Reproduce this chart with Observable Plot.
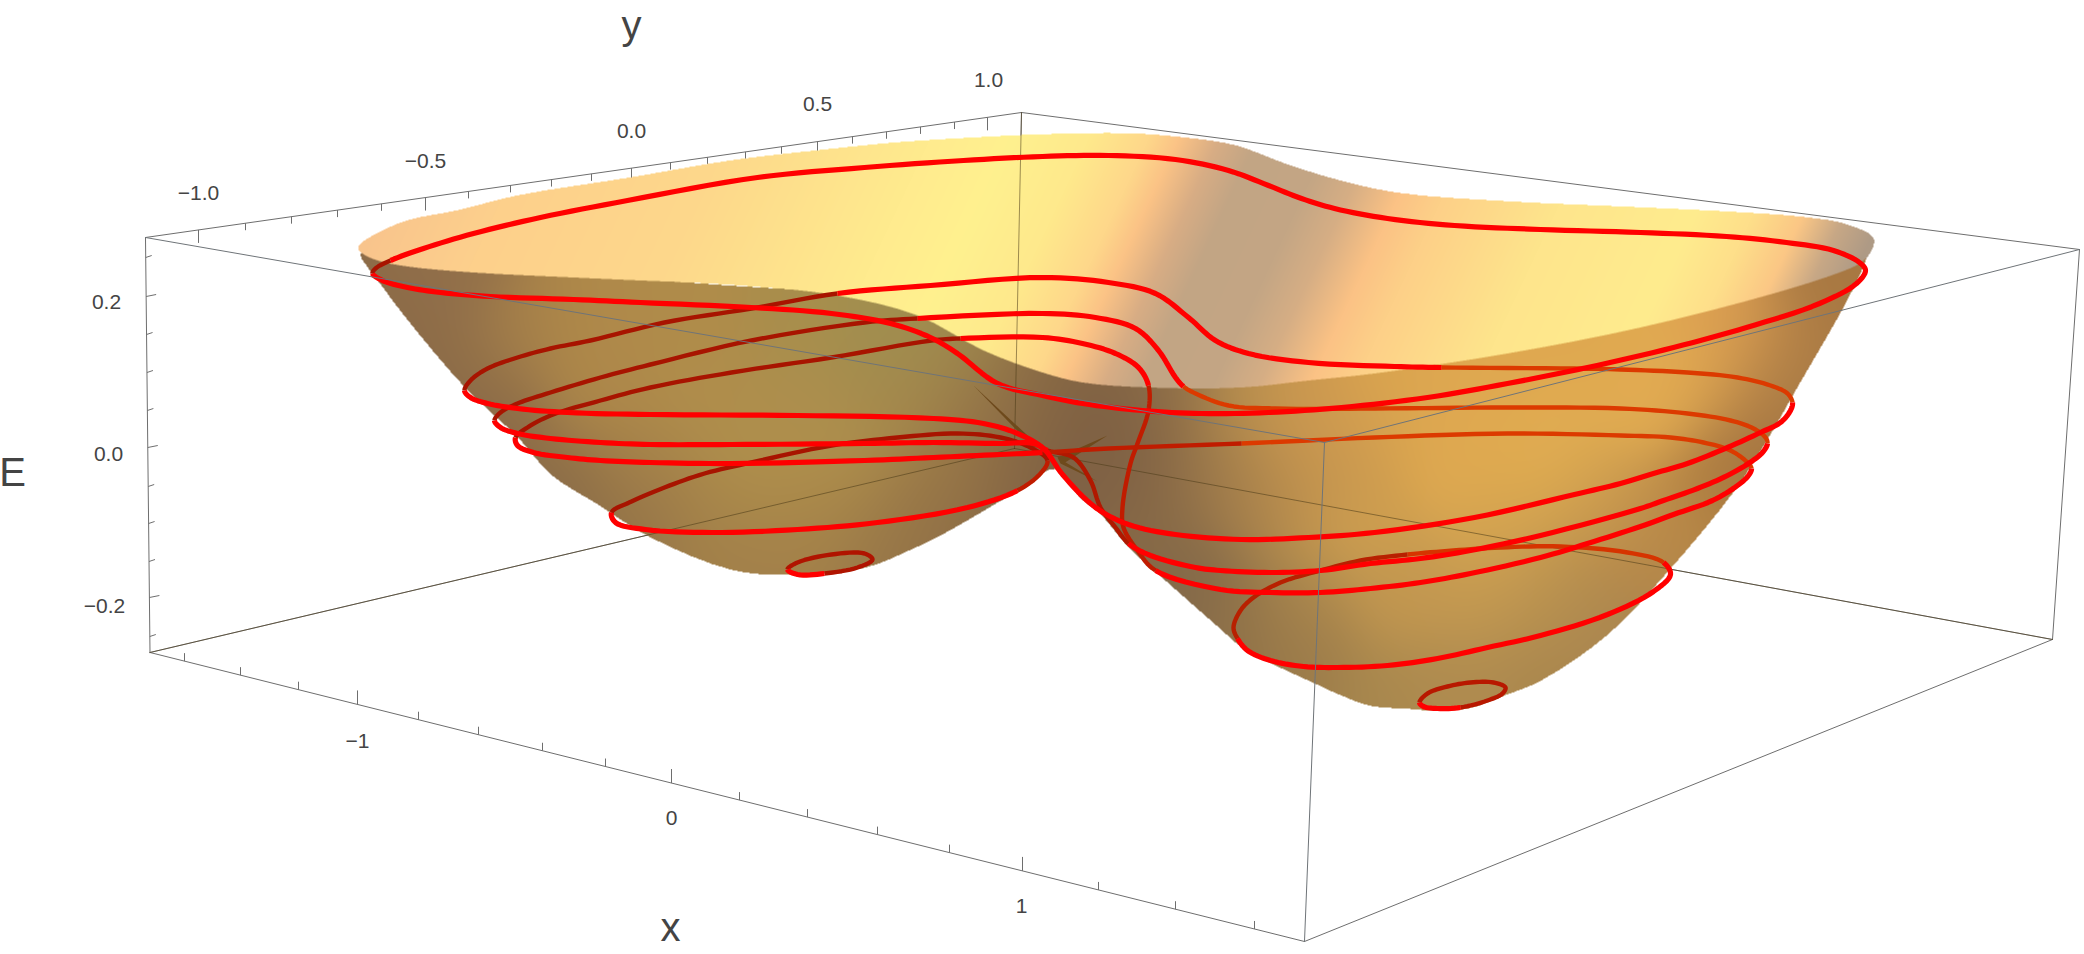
<!DOCTYPE html>
<html><head><meta charset="utf-8">
<style>html,body{margin:0;background:#fff}svg{display:block}</style>
<script src="https://cdn.jsdelivr.net/npm/d3@7"></script>
<script src="https://cdn.jsdelivr.net/npm/@observablehq/plot@0.6"></script>
</head><body><div id="chart"></div>
<script>
// Everything in screen units of the projected view.
const cornerA=[145,237],cornerB=[1021,112],cornerC=[2079,249],cornerD=[1324,442];
const cornerE=[149.5,652],cornerF=[1304,941],cornerG=[2052,639],cornerH=[1014,448];

const rimLight=[[358,248],[362,242],[383,230],[407,220],[457,210],[518,195],[631,177],[731,160],[817,150],[897,142],[977,137],[1042,134],[1128,133],[1182,137],[1235,145],[1281,162],[1328,177],[1394,192],[1507,201],[1640,207],[1740,212],[1806,217],[1846,224],[1873,238],[1869,253],[1859,263],[1839,272],[1773,293],[1640,327],[1507,353],[1374,373],[1308,380],[1241,387],[1148,387],[1082,382],[1042,372],[983,350],[917,315],[837,295],[731,284],[640,280],[573,277],[473,272],[407,266],[377,260],[362,253]];
const silhouette=[[360,253],[383,287],[408,320],[465,387],[518,437],[551,474],[598,504],[651,537],[731,569],[784,574],[864,567],[910,549],[943,533],[1017,490],[1055,468],[1080,497],[1100,513],[1128,546],[1162,577],[1220,628],[1237,643],[1270,662],[1313,682],[1337,693],[1370,705],[1407,708],[1437,710],[1470,707],[1503,695],[1540,680],[1607,634],[1667,571],[1733,491],[1766,440],[1793,393],[1853,287],[1866,254],[1855,262],[1500,300],[1000,300],[500,268],[375,256]];

const lightU=[340,500,700,900,980,1060,1120,1150,1190,1230,1300,1345,1395,1440,1560,1700,1760,1810,1850,1890];
const lightC=["#f7c08c","#fdd08c","#fdd88b","#ffeb8e","#fff18f","#fee98c","#fed78a","#fbc386","#d8ad84","#c2a584","#c4a684","#d6ae84","#fbc285","#fdd088","#fee58c","#ffec8e","#fedf8a","#fbc785","#c8a885","#ae9a85"];
const shadeX=[1780,1800,1835,1745,1720,1660,1600,1540,1450,1380,1300,1240,1180,1140,1100,1250,1300,1350,1350,1450,1550,1650,1700,1500,1600,1650,1400,1300,1500,1560,1300,1200,1130,1160,1500,1600,1740,
 400,460,500,570,640,720,800,880,950,1020,520,600,700,800,880,950,600,700,800,900,980,650,750,850,950,1000,720,820,900,440,1040,1050,1090,1400,1240];
const shadeY=[400,370,300,450,500,560,620,660,695,695,665,625,570,530,490,500,480,440,520,440,440,400,380,530,500,530,600,600,600,590,420,470,460,400,390,360,340,
 320,380,430,490,530,565,572,560,525,485,340,330,330,330,340,365,400,400,400,400,410,470,470,470,470,440,530,530,520,290,400,430,430,400,410];
const shadeC=["#a87a45","#a87a45","#a87842","#a07040","#b08040","#b08448","#a88450","#a8864e","#b08c50","#a8884e","#9a7a4a","#8a6e48","#82684a","#8a6c46","#806248","#a8824c","#bc8f4e","#d09c50","#d0a050","#e0aa50","#e2ae52","#e4ae52","#e2aa52","#d8a650","#d0a050","#c08e4c","#c49850","#ae8a4e","#c49a52","#bd944f","#d09a50","#96744a","#7f6244","#8c6c48","#dfa850","#dfa850","#de9f52",
 "#8a6a48","#8a6a48","#8a6a48","#8a6c48","#927248","#a07e4a","#a27f4a","#947448","#8a6a46","#7f6144","#a8824a","#b08a4a","#b08c4a","#a88e4c","#a08f50","#9f8a4e","#ae884a","#b08e4c","#ae8f4e","#a6894c","#9a7848","#a8844a","#b0904c","#b0904c","#a07e48","#8f6e46","#a8864a","#aa884a","#9c7a48","#93704a","#8e6e46","#7c5e42","#7b5d42","#dca650","#b8904e"];

const spikeA=[[973,385],[1040,447],[1033,447]],spikeB=[[1107,435],[1057,457],[1063,463]],spikeC=[[1097,481],[1057,457],[1060,463]];

const bright="#ff0000",deep="#a81400",ember="#dc3a00",rust="#c01c00",dusk="#b01800";

const loopA=[[[[372,273],[375,268]],deep],[[[390,260],[423,248],[473,233],[540,217],[627,200],[757,177],[864,167],[963,160],[1042,156],[1108,155],[1175,159],[1228,170],[1268,185],[1301,198],[1334,208],[1387,218],[1454,225],[1540,229],[1640,232],[1726,236],[1786,242],[1833,250],[1859,262],[1865,270],[1856,283],[1819,303],[1746,327],[1673,347],[1587,367],[1507,383],[1427,397],[1341,407],[1268,412],[1201,413],[1142,410],[1082,403],[1042,395],[997,383],[957,353],[930,337],[890,323],[831,313],[751,307],[640,302],[573,299],[490,296],[440,292],[407,287],[382,280]],bright]];
const loopB=[[[[464,390],[470,380],[487,368],[517,357],[550,348],[590,340],[664,322],[751,308]],deep],
 [[[837,293],[930,285],[1042,277],[1108,282],[1155,293],[1188,317],[1215,340],[1248,353],[1308,362],[1394,366]],bright],
 [[[1441,367],[1574,368],[1620,369],[1687,372],[1737,377],[1770,385],[1787,393]],ember],
 [[[1792,402],[1790,410],[1780,422],[1760,432],[1727,447],[1687,463],[1653,473],[1620,483],[1574,494],[1474,517],[1374,532],[1308,537],[1241,539],[1175,534],[1128,524],[1095,507],[1062,474],[1043,448],[1017,433],[983,423],[933,418],[797,415],[650,414],[567,412],[517,408],[487,403],[470,397]],bright]];
const loopC=[[[[494,420],[500,412],[517,403],[550,392],[600,377],[650,364],[751,340],[864,322]],deep],
 [[[917,318],[1042,313],[1095,317],[1135,328],[1158,350],[1175,377]],bright],
 [[[1183,386],[1195,393],[1228,405],[1275,408],[1374,408],[1507,407],[1620,408],[1687,413],[1730,420],[1753,428],[1765,437]],ember],
 [[[1767,443],[1762,452],[1748,463],[1727,475],[1697,488],[1663,500],[1640,508],[1540,535],[1470,550],[1420,558],[1370,563],[1320,570],[1270,572],[1220,570],[1195,567],[1150,555]],bright],
 [[[1128,543],[1115,527],[1100,507],[1090,480],[1073,457]],dusk],
 [[[1047,450],[1033,443],[1000,443],[933,442],[864,443],[731,444],[650,444],[600,442],[550,438],[517,433],[500,427]],bright]];
const loopD=[[[[515,437],[527,427],[550,415],[600,400],[650,387],[731,372],[831,357],[931,340]],deep],
 [[[960,338],[1042,337],[1082,343],[1115,353],[1138,367]],bright],
 [[[1148,385],[1148,410],[1137,443],[1130,463],[1122,507],[1123,527],[1137,550]],rust],
 [[[1155,570],[1220,589],[1270,592],[1320,592],[1370,588],[1420,582],[1470,573],[1540,557],[1587,543],[1640,526],[1673,514],[1712,500],[1737,485],[1748,475]],bright],
 [[[1751,468],[1747,462],[1730,450],[1703,442],[1670,437],[1620,435],[1507,433],[1374,437]],ember],
 [[[1241,443],[1108,448]],rust],
 [[[1042,452],[1000,454],[933,457],[864,460],[731,463],[650,462],[600,460],[567,457],[533,452],[517,445]],bright]];
const loopE=[[[[611,512],[631,501],[664,487],[704,473],[751,462],[831,445],[897,437],[957,433],[1000,437],[1030,447]],deep],
 [[[1047,460],[1040,473]],rust],
 [[[1017,490],[967,507],[877,522],[797,529],[711,532],[645,529],[615,522]],bright]];
const loopF=[[[[1663,562],[1627,552],[1560,546],[1500,547],[1453,550]],"#d63400"],
 [[[1407,554],[1360,560],[1320,570],[1280,582],[1253,597],[1240,610],[1233,627]],"#b82000"],
 [[[1237,638],[1247,650],[1270,660],[1303,666],[1337,667],[1387,665],[1437,658],[1487,647],[1540,635],[1607,614],[1653,591],[1670,574]],bright]];
const ringLeft=[[[[787,569],[797,562],[831,554],[864,553],[872,559],[857,567]],"#b01400"],[[[824,573],[797,574]],bright]];
const ringRight=[[[[1419,702],[1427,693],[1447,686],[1470,682],[1493,682],[1505,687],[1502,693],[1487,700]],"#b81800"],[[[1460,707],[1437,708],[1423,706]],bright]];
const loops=[loopA,loopB,loopC,loopD,loopE,loopF,ringLeft,ringRight];

const yAxisTicks=[198,245,291,337,381,425,468,510,551,591,631,670,707,745,781,817,852,886,920,954,987];
const yAxisMajor=[198,425,631,817,987];
const eAxisTicks=[257,296,334,372,410,447,486,523,561,597,636];
const eAxisMajor=[296,447,597];
const xAxisTicks=[184,240,298,357,418,478,542,605,671,739,807,877,949,1022,1098,1175,1254];
const xAxisMajor=[357,671,1022];
const yLabels=["−1.0","−0.5","0.0","0.5","1.0"], yLabelX=[198,425,631,817,988], yLabelY=[193,161,131,104,80];
const eLabels=["0.2","0.0","−0.2"], eLabelX=[106,108,104], eLabelY=[302,454,606];
const xLabels=["−1","0","1"], xLabelX=[357,671,1021], xLabelY=[741,818,906];
const titles=["y","E","x"], titleX=[631,12,670], titleY=[26,473,928];

// ---- drawing helpers: centripetal closed spline through read points, then split by colour run
function spline(p,k){const n=p.length,o=[];const tj=(t,a,b)=>t+Math.sqrt(Math.hypot(b[0]-a[0],b[1]-a[1]))+1e-6;
 for(let i=0;i<n;i++){const P0=p[(i-1+n)%n],P1=p[i],P2=p[(i+1)%n],P3=p[(i+2)%n];
  const t0=0,t1=tj(t0,P0,P1),t2=tj(t1,P1,P2),t3=tj(t2,P2,P3);
  for(let s=0;s<k;s++){const t=t1+(t2-t1)*s/k,l=(a,b,ta,tb)=>[(tb-t)/(tb-ta)*a[0]+(t-ta)/(tb-ta)*b[0],(tb-t)/(tb-ta)*a[1]+(t-ta)/(tb-ta)*b[1]];
   const A1=l(P0,P1,t0,t1),A2=l(P1,P2,t1,t2),A3=l(P2,P3,t2,t3),B1=l(A1,A2,t0,t2),B2=l(A2,A3,t1,t3);o.push(l(B1,B2,t1,t2));}}
 return o;}
function loopMarks(runs){const k=8,all=runs.flatMap(r=>r[0]),dense=spline(all,k);let at=0;const pieces=[];
 for(const [pts,col] of runs){const a=at*k,b=(at+pts.length)*k;const path=[];for(let i=a;i<=b;i++)path.push(dense[i%dense.length]);at+=pts.length;pieces.push([path,col]);}
 return pieces;}
const allPieces=loops.flatMap(loopMarks).sort((a,b)=>(a[1]===bright)-(b[1]===bright));

// ---- shading
function scan(poly){const cache=new Map();return(x,y)=>{const key=Math.round(y*4);let xs=cache.get(key);
 if(!xs){xs=[];for(let i=0,n=poly.length;i<n;i++){const a=poly[i],b=poly[(i+1)%n];if((a[1]>y)!==(b[1]>y))xs.push(a[0]+(y-a[1])/(b[1]-a[1])*(b[0]-a[0]));}xs.sort((p,q)=>p-q);cache.set(key,xs);}
 let c=0;for(const v of xs){if(v<x)c++;else break;}return c%2===1;};}
const inLight=scan(spline(rimLight,4)),inShape=scan(spline(silhouette,4));
const lightRGB=lightC.map(c=>d3.rgb(c)),shadeRGB=shadeC.map(c=>d3.rgb(c));
function lightAt(x,y){const u=x+.47*(y-200);let i=d3.bisectRight(lightU,u);if(i<=0)i=1;if(i>=lightU.length)i=lightU.length-1;
 let t=(u-lightU[i-1])/(lightU[i]-lightU[i-1]);t=Math.max(0,Math.min(1,t));const a=lightRGB[i-1],b=lightRGB[i];return[a.r+(b.r-a.r)*t,a.g+(b.g-a.g)*t,a.b+(b.b-a.b)*t];}
const S2=2*42*42;
function darkAt(x,y){let w=1e-12,r=0,g=0,b=0;for(let i=0;i<shadeX.length;i++){const dx=x-shadeX[i],dy=y-shadeY[i],d=dx*dx+dy*dy;if(d>S2*9)continue;const q=Math.exp(-d/S2);w+=q;const c=shadeRGB[i];r+=c.r*q;g+=c.g*q;b+=c.b*q;}return w<1e-6?[180,140,80]:[r/w,g/w,b/w];}
function surface(x,y){let nl=0,ns=0;for(const ox of[-.25,.25])for(const oy of[-.25,.25]){const L=inLight(x+ox,y+oy),S=inShape(x+ox,y+oy);if(L)nl++;if(L||S)ns++;}
 if(ns===0)return null;let c;if(nl===4)c=lightAt(x,y);else if(nl===0)c=darkAt(x,y);else{const a=lightAt(x,y),b=darkAt(x,y),t=nl/ns;c=[a[0]*t+b[0]*(1-t),a[1]*t+b[1]*(1-t),a[2]*t+b[2]*(1-t)];}
 return`rgba(${c[0]|0},${c[1]|0},${c[2]|0},${ns/4})`;}

// ---- tick helpers
const along=(p,q)=>x=>p[1]+(x-p[0])/(q[0]-p[0])*(q[1]-p[1]);
const alongV=(p,q)=>y=>p[0]+(y-p[1])/(q[1]-p[1])*(q[0]-p[0]);
const yLine=along(cornerA,cornerB),xLine=along(cornerE,cornerF),eLine=alongV(cornerA,cornerE);
const X=d=>d[0],Y=d=>d[1];
const seg=(p,q,o)=>Plot.line([p,q],{x:X,y:Y,...o});
const boxStyle={stroke:"#6e6e6e",strokeWidth:1};
const hiddenStyle={stroke:"#4a3a18",strokeWidth:1,strokeOpacity:.55};
const frontStyle={stroke:"#6f7478",strokeWidth:1};
const font="'Liberation Sans',Arial,sans-serif";
const labelled=(t,xs,ys,size)=>Plot.text(t,{x:(d,i)=>xs[i],y:(d,i)=>ys[i],text:d=>d,fontSize:size,fontFamily:font,fill:"#444",textAnchor:"middle"});

const chart=Plot.plot({width:2084,height:954,margin:0,
 style:{background:"#fff"},
 color:{type:"identity"},
 x:{domain:[0,2084],range:[0,2084],axis:null},
 y:{domain:[0,954],range:[0,954],axis:null},
 marks:[
  seg(cornerA,cornerB,boxStyle),seg(cornerB,cornerC,boxStyle),seg(cornerB,cornerH,boxStyle),seg(cornerH,cornerE,boxStyle),seg(cornerH,cornerG,boxStyle),
  seg(cornerA,cornerE,boxStyle),seg(cornerE,cornerF,boxStyle),seg(cornerF,cornerG,boxStyle),seg(cornerG,cornerC,boxStyle),
  Plot.link(yAxisTicks,{x1:d=>d,x2:d=>d,y1:yLine,y2:d=>yLine(d)+(yAxisMajor.includes(d)?13:7),...boxStyle}),
  Plot.link(xAxisTicks,{x1:d=>d,x2:d=>d,y1:xLine,y2:d=>xLine(d)-(xAxisMajor.includes(d)?14:8),...boxStyle}),
  Plot.link(eAxisTicks,{y1:d=>d,y2:d=>d-2,x1:eLine,x2:d=>eLine(d)+(eAxisMajor.includes(d)?10:6),...boxStyle}),
  Plot.raster({x1:340,x2:1890,y1:120,y2:720,pixelSize:1,fill:surface}),
  seg(cornerB,cornerH,hiddenStyle),seg(cornerH,cornerE,hiddenStyle),seg(cornerH,cornerG,hiddenStyle),
  ...[spikeA,spikeB,spikeC].map(s=>Plot.line([...s,s[0]],{x:X,y:Y,fill:"#6e4a1c",stroke:"none"})),
  ...allPieces.map(([pts,col])=>Plot.line(pts,{x:X,y:Y,stroke:col,strokeWidth:col===bright?5.2:4.4,strokeLinecap:"butt",strokeLinejoin:"round"})),
  seg(cornerA,cornerD,frontStyle),seg(cornerD,cornerC,frontStyle),seg(cornerD,cornerF,frontStyle),
  labelled(yLabels,yLabelX,yLabelY,21),labelled(eLabels,eLabelX,eLabelY,21),labelled(xLabels,xLabelX,xLabelY,21),
  labelled(titles,titleX,titleY,40)
 ]});
document.getElementById("chart").append(chart);
</script></body></html>
